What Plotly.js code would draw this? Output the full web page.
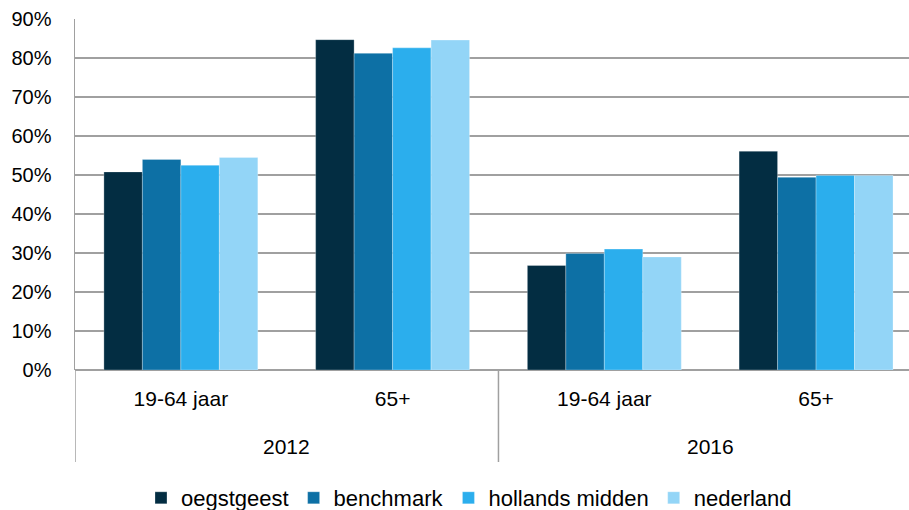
<!DOCTYPE html>
<html>
<head>
<meta charset="utf-8">
<script src="https://cdn.plot.ly/plotly-3.0.1.min.js"></script>
<style>html,body{margin:0;padding:0;background:#fff}#chart{width:909px;height:510px}</style>
</head>
<body>
<div id="chart"></div>
<script>
var years = ["2012", "2012", "2016", "2016"];
var ageGroups = ["19-64 jaar", "65+", "19-64 jaar", "65+"];
var yearLabels = ["2012", "2016"];
var seriesNames = ["oegstgeest", "benchmark", "hollands midden", "nederland"];
var oegstgeest = [0.508, 0.847, 0.268, 0.561];
var benchmark = [0.540, 0.812, 0.299, 0.494];
var hollandsMidden = [0.525, 0.826, 0.310, 0.499];
var nederland = [0.545, 0.846, 0.290, 0.499];
var yTickVals = [0, 0.1, 0.2, 0.3, 0.4, 0.5, 0.6, 0.7, 0.8, 0.9];
var yTickText = ["0%", "10%", "20%", "30%", "40%", "50%", "60%", "70%", "80%", "90%"];

var colors = ["#032d42", "#0d70a5", "#2baeed", "#93d5f7"];
var allValues = [oegstgeest, benchmark, hollandsMidden, nederland];
var FONT = "'Liberation Sans', Arial, sans-serif";

// figure geometry (pixels)
var H = 510, MT = 19, PLOT_BOTTOM = 370;
var paperH = H - MT;
function py(pix) { return (H - pix) / paperH; } // pixel row -> paper fraction

// unique category keys built from the two label levels
var catKeys = years.map(function (y, i) { return y + " " + ageGroups[i] + " #" + i; });
var catIdx = catKeys.map(function (_, i) { return i; });

var traces = allValues.map(function (vals, i) {
  return {
    type: "bar",
    name: seriesNames[i],
    x: catKeys,
    y: vals,
    marker: { color: colors[i], line: { color: "rgba(255,255,255,0.35)", width: 0.8 } },
    hoverinfo: "skip"
  };
});

var annotations = [];
var shapes = [];
yearLabels.forEach(function (yr) {
  var members = catIdx.filter(function (i) { return years[i] === yr; });
  var centre = (members[0] + members[members.length - 1]) / 2;
  annotations.push({
    xref: "x", yref: "paper", x: centre, y: py(446.5), yanchor: "middle",
    text: yr, showarrow: false, font: { family: FONT, size: 21, color: "#000" }
  });
  var left = members[0] - 0.5;
  shapes.push({
    type: "line", xref: "x", yref: "paper", x0: left, x1: left,
    y0: py(PLOT_BOTTOM), y1: py(462),
    line: { color: "#a0a0a0", width: 1.5 }
  });
});

var layout = {
  width: 909,
  height: H,
  margin: { l: 75, r: 0, t: MT, b: 0, autoexpand: false },
  paper_bgcolor: "#fff",
  plot_bgcolor: "#fff",
  barmode: "group",
  bargap: 0.273,
  bargroupgap: 0,
  font: { family: FONT, size: 20, color: "#000" },
  showlegend: true,
  legend: {
    orientation: "h",
    x: 0.4724, xanchor: "center",
    y: py(498), yanchor: "middle",
    bgcolor: "rgba(0,0,0,0)",
    font: { family: FONT, size: 22, color: "#000" },
    itemwidth: 30,
    traceorder: "normal"
  },
  annotations: annotations,
  shapes: shapes,
  xaxis: {
    type: "category",
    range: [-0.5, 3.439],
    tickvals: catKeys,
    ticktext: ageGroups,
    showline: false,
    showgrid: false,
    ticks: "",
    ticklabelstandoff: 14,
    tickfont: { family: FONT, size: 21, color: "#000" },
    fixedrange: true
  },
  yaxis: {
    domain: [py(PLOT_BOTTOM), 1],
    range: [0, 0.9],
    tickvals: yTickVals,
    ticktext: yTickText,
    showgrid: true,
    gridcolor: "#a0a0a0",
    gridwidth: 1.5,
    zeroline: true,
    zerolinecolor: "#a0a0a0",
    zerolinewidth: 1.5,
    showline: true,
    linecolor: "#a0a0a0",
    linewidth: 1.5,
    ticks: "",
    ticklabelstandoff: 18,
    tickfont: { family: FONT, size: 20, color: "#000" },
    fixedrange: true
  }
};

Plotly.newPlot("chart", traces, layout, { displayModeBar: false, staticPlot: true });
</script>
</body>
</html>
